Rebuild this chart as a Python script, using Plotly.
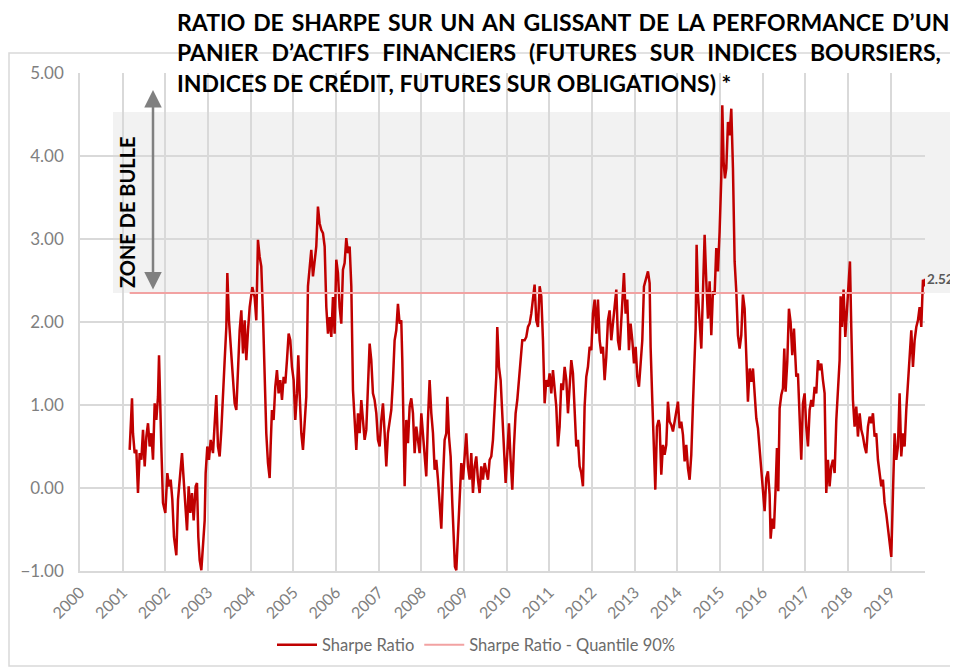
import plotly.graph_objects as go

# ---------------- data ----------------
T = [
 2001.164, 2001.219, 2001.242, 2001.281, 2001.320, 2001.359, 2001.398, 2001.438, 2001.477, 2001.516,
 2001.555, 2001.594, 2001.633, 2001.672, 2001.711, 2001.750, 2001.789, 2001.828, 2001.852, 2001.883,
 2001.906, 2001.945, 2002.000, 2002.047, 2002.086, 2002.125, 2002.164, 2002.203, 2002.258, 2002.297,
 2002.336, 2002.391, 2002.430, 2002.469, 2002.508, 2002.547, 2002.586, 2002.625, 2002.664, 2002.711,
 2002.742, 2002.773, 2002.805, 2002.844, 2002.883, 2002.922, 2002.945, 2002.984, 2003.023, 2003.063,
 2003.117, 2003.156, 2003.195, 2003.234, 2003.273, 2003.313, 2003.352, 2003.391, 2003.430, 2003.453,
 2003.492, 2003.531, 2003.586, 2003.625, 2003.664, 2003.703, 2003.742, 2003.781, 2003.820, 2003.859,
 2003.898, 2003.938, 2003.977, 2004.039,
 2004.093, 2004.132, 2004.171, 2004.210, 2004.249, 2004.288, 2004.327, 2004.366, 2004.406, 2004.445,
 2004.468, 2004.499, 2004.538, 2004.577, 2004.616, 2004.655, 2004.695, 2004.734, 2004.773, 2004.812,
 2004.851, 2004.890, 2004.929, 2004.968, 2005.007, 2005.046, 2005.085, 2005.116, 2005.148, 2005.187,
 2005.226, 2005.265, 2005.304, 2005.343, 2005.382, 2005.421, 2005.460, 2005.499, 2005.538, 2005.577,
 2005.616, 2005.655, 2005.695, 2005.734, 2005.773, 2005.812, 2005.851, 2005.890, 2005.929, 2005.968,
 2006.007, 2006.046, 2006.085, 2006.124, 2006.163, 2006.202, 2006.241, 2006.280, 2006.320, 2006.359,
 2006.398, 2006.437, 2006.476, 2006.515, 2006.554, 2006.593, 2006.632, 2006.671, 2006.710, 2006.749,
 2006.788, 2006.827, 2006.866, 2006.905, 2006.945, 2006.984, 2007.023, 2007.062, 2007.101, 2007.140,
 2007.179, 2007.218,
 2007.257, 2007.296, 2007.335, 2007.374, 2007.413, 2007.452, 2007.491, 2007.530, 2007.554, 2007.585,
 2007.609, 2007.648, 2007.687, 2007.726, 2007.765, 2007.804, 2007.843, 2007.882, 2007.921, 2007.960,
 2008.000, 2008.038, 2008.077, 2008.116, 2008.155, 2008.194, 2008.234, 2008.273, 2008.312, 2008.351,
 2008.390, 2008.429, 2008.468, 2008.507, 2008.546, 2008.585, 2008.609, 2008.648, 2008.687, 2008.726,
 2008.757, 2008.788, 2008.820, 2008.859, 2008.898, 2008.937, 2008.976, 2009.015, 2009.054, 2009.093,
 2009.132, 2009.171, 2009.210, 2009.249, 2009.288, 2009.327, 2009.366, 2009.405, 2009.445, 2009.484,
 2009.523, 2009.562, 2009.601, 2009.640, 2009.679, 2009.718, 2009.757, 2009.780, 2009.820, 2009.859,
 2009.898, 2009.937, 2009.976, 2010.015, 2010.054, 2010.093, 2010.132, 2010.171, 2010.210, 2010.249,
 2010.288, 2010.327, 2010.366,
 2010.421, 2010.460, 2010.499, 2010.538, 2010.577, 2010.616, 2010.655, 2010.694, 2010.734, 2010.773,
 2010.812, 2010.851, 2010.890, 2010.929, 2010.968, 2011.007, 2011.046, 2011.085, 2011.124, 2011.163,
 2011.202, 2011.241, 2011.280, 2011.319, 2011.359, 2011.398, 2011.437, 2011.476, 2011.515, 2011.554,
 2011.593, 2011.632, 2011.671, 2011.710, 2011.749, 2011.788, 2011.827, 2011.866, 2011.905, 2011.945,
 2011.984, 2012.023, 2012.062, 2012.101, 2012.140, 2012.179, 2012.218, 2012.257, 2012.296, 2012.335,
 2012.374, 2012.413, 2012.452, 2012.491, 2012.530, 2012.570, 2012.609, 2012.648, 2012.687, 2012.726,
 2012.749, 2012.788, 2012.827, 2012.866, 2012.905, 2012.945, 2012.984, 2013.023, 2013.062, 2013.101,
 2013.140, 2013.179, 2013.218, 2013.257, 2013.312, 2013.351, 2013.374, 2013.413, 2013.452, 2013.484,
 2013.523, 2013.562,
 2013.585, 2013.624, 2013.663, 2013.702, 2013.741, 2013.780, 2013.819, 2013.858, 2013.898, 2013.937,
 2013.976, 2014.015, 2014.054, 2014.093, 2014.132, 2014.171, 2014.210, 2014.249, 2014.288, 2014.327,
 2014.366, 2014.405, 2014.429, 2014.452, 2014.484, 2014.523, 2014.562, 2014.601, 2014.640, 2014.679,
 2014.718, 2014.757, 2014.796, 2014.835, 2014.874, 2014.913, 2014.952, 2014.991, 2015.030, 2015.054,
 2015.085, 2015.116, 2015.148, 2015.187, 2015.226, 2015.265, 2015.304, 2015.343, 2015.382, 2015.421,
 2015.460, 2015.499, 2015.538, 2015.577, 2015.616, 2015.655, 2015.695, 2015.734, 2015.773, 2015.812,
 2015.851, 2015.890, 2015.929, 2015.968, 2016.007, 2016.046, 2016.085, 2016.124, 2016.163, 2016.187,
 2016.226, 2016.265, 2016.304, 2016.335, 2016.366, 2016.398, 2016.437, 2016.476, 2016.507, 2016.538,
 2016.577, 2016.616, 2016.655, 2016.694, 2016.734,
 2016.788, 2016.827, 2016.866, 2016.905, 2016.944, 2016.983, 2017.022, 2017.062, 2017.101, 2017.140,
 2017.179, 2017.218, 2017.257, 2017.296, 2017.335, 2017.374, 2017.413, 2017.452, 2017.491, 2017.530,
 2017.569, 2017.608, 2017.647, 2017.687, 2017.726, 2017.765, 2017.804, 2017.827, 2017.858, 2017.897,
 2017.937, 2017.976, 2018.015, 2018.046, 2018.077, 2018.116, 2018.155, 2018.194, 2018.233, 2018.273,
 2018.312, 2018.351, 2018.390, 2018.429, 2018.468, 2018.507, 2018.546, 2018.585, 2018.624, 2018.663,
 2018.702, 2018.741, 2018.780, 2018.819, 2018.858, 2018.897, 2018.937, 2018.976, 2019.015, 2019.054,
 2019.093, 2019.132, 2019.171, 2019.210, 2019.249, 2019.288, 2019.327, 2019.366, 2019.405, 2019.445,
 2019.484, 2019.523, 2019.562, 2019.601, 2019.640, 2019.679, 2019.718, 2019.757, 2019.796, 2019.805,
]

SHARPE = [
 0.46, 1.08, 0.66, 0.42, 0.46, -0.06, 0.42, 0.34, 0.70, 0.26,
 0.62, 0.78, 0.50, 0.66, 0.34, 1.02, 0.82, 1.10, 1.60, 0.82,
 0.50, -0.18, -0.30, 0.18, 0.02, 0.10, -0.14, -0.59, -0.81, -0.14,
 0.14, 0.42, 0.10, -0.18, -0.51, 0.02, -0.30, -0.06, -0.39, 0.02,
 0.06, -0.59, -0.87, -0.99, -0.63, -0.39, 0.18, 0.50, 0.34, 0.58,
 0.42, 0.74, 1.12, 0.50, 0.38, 0.70, 1.22, 1.54, 1.94, 2.59,
 2.02, 1.70, 1.30, 1.02, 0.94, 1.50, 1.90, 2.14, 1.62, 2.02,
 1.54, 1.90, 2.18, 2.42,
 2.30, 2.02, 2.99, 2.79, 2.67, 2.10, 1.46, 0.66, 0.30, 0.12,
 0.50, 0.94, 0.82, 1.22, 1.42, 1.14, 1.30, 1.06, 1.34, 1.26,
 1.54, 1.86, 1.78, 1.46, 1.30, 0.82, 1.14, 1.60, 1.14, 0.66,
 0.46, 0.74, 1.10, 2.43, 2.67, 2.87, 2.55, 2.71, 2.91, 3.39,
 3.19, 3.11, 3.07, 2.91, 2.18, 1.86, 2.06, 1.82, 2.30, 1.86,
 2.75, 2.59, 2.18, 1.98, 2.63, 2.71, 3.01, 2.83, 2.91, 2.43,
 1.18, 0.82, 0.46, 0.90, 0.66, 1.06, 0.82, 0.58, 0.70, 1.18,
 1.74, 1.54, 1.14, 1.06, 0.90, 0.58, 0.50, 0.82, 1.02, 0.66,
 0.26, 0.66,
 0.78, 0.94, 1.30, 1.78, 1.90, 2.22, 1.98, 2.02, 1.54, 0.62,
 0.02, 0.82, 0.54, 0.98, 1.08, 0.90, 0.42, 0.74, 0.58, 0.42,
 0.90, 0.66, 0.42, 0.14, 0.82, 1.30, 0.90, 0.66, 0.22, 0.34,
 0.10, -0.22, -0.49, 0.10, 0.58, 0.66, 1.10, 0.62, 0.38, -0.18,
 -0.55, -0.95, -0.99, -0.55, -0.06, 0.30, 0.10, 0.42, 0.66, 0.26,
 0.10, 0.42, -0.06, 0.26, 0.38, 0.10, -0.06, 0.26, 0.10, 0.30,
 0.18, 0.10, 0.34, 0.38, 0.58, 0.90, 1.34, 1.94, 1.46, 1.30,
 0.82, 0.42, 0.06, 0.42, 0.78, 0.34, -0.02, 0.50, 0.90, 1.06,
 1.34, 1.58, 1.78,
 1.78, 1.82, 1.94, 1.98, 2.10, 2.31, 2.45, 2.02, 1.94, 2.43,
 2.31, 1.78, 1.02, 1.30, 1.22, 1.38, 1.14, 1.42, 1.18, 0.98,
 0.50, 0.74, 1.26, 1.18, 1.46, 1.30, 0.90, 1.22, 1.54, 1.38,
 0.90, 0.50, 0.58, 0.26, 0.18, 0.02, 0.98, 1.34, 1.46, 1.70,
 1.66, 2.10, 2.27, 1.86, 2.27, 1.78, 1.62, 1.70, 1.30, 1.58,
 2.02, 2.14, 1.78, 1.98, 2.18, 2.39, 1.78, 1.66, 2.02, 2.35,
 2.59, 2.10, 2.27, 1.66, 1.98, 1.78, 1.50, 1.70, 1.34, 1.22,
 1.46, 1.78, 2.43, 2.51, 2.61, 2.47, 1.70, 1.06, 0.58, -0.02,
 0.74, 0.82,
 0.76, 0.16, 0.52, 0.40, 0.52, 1.04, 0.80, 0.76, 0.68, 0.80,
 0.92, 1.04, 0.72, 0.80, 0.64, 0.32, 0.52, 0.24, 0.10, 0.40,
 1.00, 1.52, 1.92, 2.93, 2.33, 2.00, 1.68, 2.37, 3.05, 2.49,
 2.04, 2.49, 1.84, 2.37, 2.33, 2.89, 2.61, 3.09, 3.73, 4.61,
 3.93, 3.73, 3.85, 4.41, 4.25, 4.57, 3.85, 2.73, 2.37, 1.84,
 1.68, 1.84, 2.33, 2.16, 1.52, 1.04, 1.44, 1.28, 1.44, 1.12,
 0.84, 0.72, 0.48, 0.24, 0.00, -0.28, 0.12, 0.20, -0.08, -0.61,
 -0.37, -0.49, 0.00, 0.48, -0.04, 0.96, 1.12, 1.20, 1.68, 1.16,
 1.52, 2.16, 2.00, 1.60, 1.92,
 1.34, 1.38, 0.74, 0.34, 1.02, 1.14, 0.74, 0.50, 0.94, 1.06,
 0.98, 1.22, 1.14, 1.54, 1.42, 1.50, 1.30, 1.14, -0.06, 0.34,
 0.02, 0.26, 0.34, 0.18, 0.82, 1.22, 1.54, 2.31, 1.94, 2.39,
 1.82, 2.14, 2.51, 2.73, 1.94, 1.06, 0.74, 0.98, 0.62, 0.90,
 0.70, 0.62, 0.50, 0.42, 0.74, 0.86, 0.78, 0.90, 0.62, 0.66,
 0.34, 0.18, 0.02, 0.10, -0.18, -0.31, -0.47, -0.67, -0.83, -0.06,
 0.66, 0.34, 0.50, 1.14, 0.38, 0.66, 0.50, 0.94, 1.22, 1.54,
 1.90, 1.46, 1.78, 1.94, 2.02, 2.18, 1.94, 2.51, 2.43, 2.52,
]

QUANTILE_90 = 2.35          # 90% quantile of the Sharpe ratio
BUBBLE_TOP = 4.53           # top of the shaded "bubble zone"
YEARS = list(range(2000, 2020))
YEAR_LABELS = [str(y) for y in YEARS]
Y_TICKS = [-1, 0, 1, 2, 3, 4, 5]
SERIES_NAMES = ["Sharpe Ratio", "Sharpe Ratio - Quantile 90%"]
TITLE_LINES = [
    "RATIO DE SHARPE SUR UN AN GLISSANT DE LA PERFORMANCE D’UN",
    "PANIER D’ACTIFS FINANCIERS (FUTURES SUR INDICES BOURSIERS,",
    "INDICES DE CRÉDIT, FUTURES SUR OBLIGATIONS) *",
]
TITLE_WORD_SPACING = [2.2, 7.3, 0]   # justified paragraph (last line not stretched)
ZONE_LABEL = "ZONE DE BULLE"

# ---------------- layout geometry ----------------
OFF = 8                     # page body margin in the browser
W, H = 958 - OFF, 669 - OFF
L, TOP = 80 - OFF, 73 - OFF
R = W - (925 - OFF)
B = H - (571 - OFF)
PW, PH = W - L - R, H - TOP - B
YMIN, YMAX = -1, 5


def px_x(p):  # window pixel -> paper x
    return (p - OFF - L) / PW


def px_y(p):  # window pixel -> paper y
    return (H - B - (p - OFF)) / PH


def val_y(v):  # data value -> paper y
    return (v - YMIN) / (YMAX - YMIN)


FONT = "Lato, 'Open Sans', sans-serif"
GRID = "#d9d9d9"
DARK_RED = "#C00000"
PINK = "#F2A2A2"

fig = go.Figure()
fig.add_trace(go.Scatter(x=T, y=SHARPE, mode="lines", name=SERIES_NAMES[0],
                         line=dict(color=DARK_RED, width=2.5)))
fig.add_trace(go.Scatter(x=[T[0], T[-1]], y=[QUANTILE_90, QUANTILE_90], mode="lines",
                         name=SERIES_NAMES[1], line=dict(color=PINK, width=2)))

shapes = [
    # bubble zone
    dict(type="rect", xref="paper", yref="paper", layer="below",
         x0=px_x(113), x1=px_x(962), y0=val_y(QUANTILE_90), y1=val_y(BUBBLE_TOP),
         fillcolor="#f2f2f2", line=dict(width=0)),
    # outer chart border
    dict(type="rect", xref="paper", yref="paper", layer="below",
         x0=px_x(9), x1=px_x(964), y0=px_y(666), y1=px_y(53),
         fillcolor="rgba(0,0,0,0)", line=dict(color=GRID, width=1.5)),
]

annotations = []
# title lines (justified via word spacing)
for i, line in enumerate(TITLE_LINES):
    txt = f'<span style="word-spacing:{TITLE_WORD_SPACING[i]}px">{line}</span>'
    annotations.append(dict(xref="paper", yref="paper", x=px_x(175), y=px_y(22 + 30.5 * i),
                            xanchor="left", yanchor="middle", showarrow=False, text=txt,
                            font=dict(family=FONT, size=23, color="black", weight="bold")))
# zone label
annotations.append(dict(xref="paper", yref="paper", x=px_x(127), y=px_y(212), textangle=-90,
                        xanchor="center", yanchor="middle", showarrow=False, text=ZONE_LABEL,
                        font=dict(family=FONT, size=20, color="black", weight="bold")))
# double arrow
annotations.append(dict(xref="paper", yref="paper", x=px_x(153), y=px_y(90), ax=0, ay=201,
                        text="", showarrow=True, arrowside="end+start", arrowhead=2,
                        startarrowhead=2, arrowsize=1.4, startarrowsize=1.4, arrowwidth=2.5,
                        arrowcolor="#808080", standoff=0, startstandoff=0))
# last value label
annotations.append(dict(x=T[-1], y=SHARPE[-1], xref="x", yref="y", xanchor="left",
                        yanchor="middle", showarrow=False, text=f"{SHARPE[-1]:.2f}",
                        font=dict(family=FONT, size=13.5, color="#595959", weight="bold")))

fig.update_layout(
    width=W, height=H, margin=dict(l=L, r=R, t=TOP, b=B, autoexpand=False),
    paper_bgcolor="white", plot_bgcolor="rgba(0,0,0,0)",
    font=dict(family=FONT, color="#7f7f7f"),
    showlegend=True,
    legend=dict(orientation="h", x=px_x(476), xanchor="center", y=px_y(645), yanchor="middle",
                font=dict(family=FONT, size=16.5, color="#6b6b6b"), itemwidth=40,
                bgcolor="rgba(0,0,0,0)"),
    shapes=shapes, annotations=annotations,
)
fig.update_xaxes(range=[2000, T[-1]], tickvals=YEARS, ticktext=YEAR_LABELS, tickangle=-45,
                 showgrid=True, gridcolor=GRID, gridwidth=1.5, showline=True, linecolor=GRID,
                 linewidth=1.5, zeroline=False, ticks="", ticklabelstandoff=4,
                 tickfont=dict(family=FONT, size=16, color="#7f7f7f"))
fig.update_yaxes(range=[YMIN, YMAX], tickvals=Y_TICKS, tickformat=".2f", showgrid=True,
                 gridcolor=GRID, gridwidth=1.5, showline=True, linecolor=GRID, linewidth=1.5,
                 zeroline=False, ticks="", ticklabelstandoff=11,
                 tickfont=dict(family=FONT, size=17, color="#7f7f7f"))

fig.write_html("out.html")
